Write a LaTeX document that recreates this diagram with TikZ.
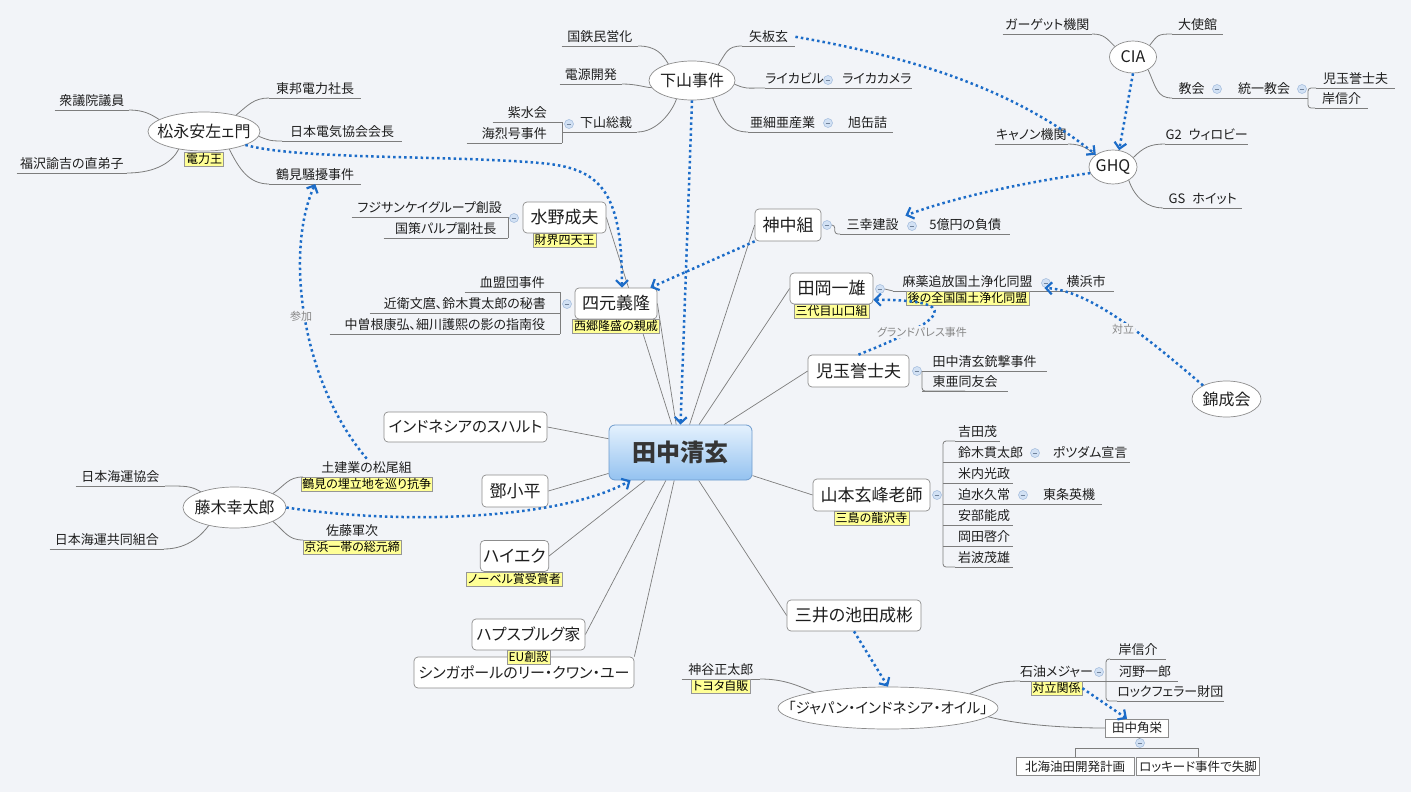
\documentclass[tikz,border=0pt]{standalone}
\usepackage{fontspec}
\setmainfont{Noto Sans CJK JP}[RawFeature=+palt]
\usetikzlibrary{positioning,shapes.geometric,arrows.meta,calc,backgrounds}

\definecolor{bgc}{RGB}{242,244,248}
\definecolor{txt}{RGB}{30,30,30}
\definecolor{linec}{RGB}{125,125,125}
\definecolor{boxc}{RGB}{140,140,140}
\definecolor{relc}{RGB}{28,108,200}
\definecolor{notey}{RGB}{255,255,150}
\definecolor{noteb}{RGB}{150,150,150}
\definecolor{minf}{RGB}{210,225,244}
\definecolor{minb}{RGB}{160,186,220}
\definecolor{coreb}{RGB}{110,155,205}
\definecolor{coretop}{RGB}{228,241,253}
\definecolor{corebot}{RGB}{148,194,240}
\definecolor{rellab}{RGB}{135,135,135}

\tikzset{
  core/.style={draw=coreb, line width=0.8pt, rounded corners=6pt, top color=coretop, bottom color=corebot,
    minimum width=143pt, minimum height=55pt, text=txt!90, font=\fontsize{24}{24}\selectfont\bfseries},
  topic/.style={draw=boxc, line width=0.7pt, fill=white, rounded corners=4pt, minimum height=31pt,
    inner xsep=3pt, text=txt, font=\fontsize{17}{17}\selectfont},
  float/.style={ellipse, draw=boxc, line width=0.7pt, fill=white, inner sep=0pt, text=txt,
    font=\fontsize{16}{16}\selectfont, execute at begin node={\hbox to 0pt\bgroup\hss},
    execute at end node={\hss\egroup}},
  leaf/.style={anchor=south west, inner xsep=0pt, inner ysep=4pt, text height=10pt, text depth=0pt,
    text=txt, font=\fontsize{13}{13}\selectfont,
    append after command={(\tikzlastnode.south west) edge[branch] (\tikzlastnode.south east)}},
  leafl/.style={leaf, anchor=south east},
  note/.style={fill=notey, draw=noteb, line width=0.5pt, inner xsep=1.5pt, inner ysep=1.2pt,
    text height=10pt, text depth=1.5pt, text=black, font=\fontsize{12}{12}\selectfont},
  plain/.style={draw=boxc, fill=white, line width=0.6pt, inner xsep=3pt, inner ysep=2pt, minimum height=18pt,
    text=txt, font=\fontsize{12.5}{12.5}\selectfont},
  minus/.style={circle, draw=minb, fill=minf, line width=0.5pt, minimum size=9pt, inner sep=0pt,
    path picture={\draw[minb!70!black, line width=0.7pt] ([xshift=-2.3pt]path picture bounding box.center)
      -- ([xshift=2.3pt]path picture bounding box.center);}},
  branch/.style={draw=linec, line width=0.8pt},
  spoke/.style={draw=linec, line width=0.7pt},
  rel/.style={draw=relc, line width=2.5pt, dash pattern=on 2.5pt off 3pt,
    -{Straight Barb[length=6pt,width=12pt,line width=2.2pt]}},
  rellabel/.style={fill=bgc, inner sep=1pt, text=rellab, font=\fontsize{11}{11}\selectfont}
}

\begin{document}
\begin{tikzpicture}[x=1pt, y=-1pt]
\useasboundingbox (0,0) rectangle (1411,792);
\begin{scope}[on background layer]
  \fill[bgc] (0,0) rectangle (1411,792);
\end{scope}

% center and main topics
\node[core] (tanaka) at (680.5,452.5) {田中清玄};
\node[topic, minimum width=83pt] (mizuno) at (564.5,217.5) {水野成夫};
\node[note, below=0pt of mizuno] (mizunonote) {財界四天王};
\node[topic, minimum width=82pt] (yotsumoto) at (616,303.5) {四元義隆};
\node[note, below=0pt of yotsumoto] (yotsumotonote) {西郷隆盛の親戚};
\node[topic, minimum width=66pt, minimum height=32pt] (jinnaka) at (788,225) {神中組};
\node[topic, minimum width=83pt] (taoka) at (831.5,288.5) {田岡一雄};
\node[note, below=0pt of taoka] (taokanote) {三代目山口組};
\node[topic, minimum width=101pt, minimum height=32pt] (kodama) at (858.5,371) {児玉誉士夫};
\node[topic, minimum width=117pt, minimum height=32pt] (yamamoto) at (871.5,495) {山本玄峰老師};
\node[note, below=0pt of yamamoto] (yamamotonote) {三島の龍沢寺};
\node[topic, minimum width=134pt] (mitsui) at (854,615.5) {三井の池田成彬};
\node[topic, minimum width=163pt, minimum height=30pt, font=\fontsize{15.5}{15.5}\selectfont] (suharto) at (465.5,427) {インドネシアのスハルト};
\node[topic, minimum width=66pt, minimum height=32pt] (deng) at (515,491) {鄧小平};
\node[topic, minimum width=65pt] (hayek) at (514.5,556) {ハイエク};
\node[note, below=0pt of hayek] (hayeknote) {ノーベル賞受賞者};
\node[topic, minimum width=220pt, font=\fontsize{15}{15}\selectfont] (lee) at (524,672.5) {シンガポールのリー・クワン・ユー};
\node[topic, minimum width=113pt, font=\fontsize{16}{16}\selectfont] (habsburg) at (528.5,634.5) {ハプスブルグ家};
\node[note, below=0pt of habsburg] (habsburgnote) {EU創設};

% floating topics
\node[float, minimum width=112pt, minimum height=39pt] (matsunaga) at (204,131.5) {松永安左ェ門};
\node[note, below=1pt of matsunaga] (matsunaganote) {電力王};
\node[float, minimum width=86pt, minimum height=39pt] (shimoyama) at (692,80.5) {下山事件};
\node[float, minimum width=47pt, minimum height=32pt] (cia) at (1133,57) {CIA};
\node[float, minimum width=48pt, minimum height=34pt] (ghq) at (1113,167) {GHQ};
\node[float, minimum width=69pt, minimum height=36pt] (kinseikai) at (1226.5,399) {錦成会};
\node[float, minimum width=103pt, minimum height=41pt] (fujiki) at (234.5,507.5) {藤木幸太郎};
\node[float, minimum width=220pt, minimum height=42pt, font=\fontsize{14.5}{14.5}\selectfont] (jio) at (888,708) {「ジャパン・インドネシア・オイル」};

\begin{scope}[on background layer]
  \draw[spoke] (mizuno.east) -- (tanaka);
  \draw[spoke] (yotsumoto.east) -- (tanaka);
  \draw[spoke] (jinnaka.west) -- (tanaka);
  \draw[spoke] (taoka.west) -- (tanaka);
  \draw[spoke] (kodama.west) -- (tanaka);
  \draw[spoke] (yamamoto.west) -- (tanaka);
  \draw[spoke] (mitsui.west) -- (tanaka);
  \draw[spoke] (suharto.east) -- (tanaka);
  \draw[spoke] (deng.east) -- (tanaka);
  \draw[spoke] (hayek.east) -- (tanaka);
  \draw[spoke] (habsburg.east) -- (tanaka);
  \draw[spoke] (lee.north east) -- (tanaka);
\end{scope}

% matsunaga
\node[leaf, minimum width=92pt] (toho) at (269,98) {東邦電力社長};
\node[leaf, minimum width=120pt] (denki) at (282,141) {日本電気協会会長};
\node[leaf, minimum width=92pt] (tsurumi) at (269,184) {鶴見騒擾事件};
\node[leafl, minimum width=74pt] (shugiin) at (129,110) {衆議院議員};
\node[leafl, minimum width=110pt] (fukuzawa) at (127,173) {福沢諭吉の直弟子};
\draw[branch] (matsunaga.27) .. controls +(12,-10) and +(-15,0) .. (toho.south west);
\draw[branch] (matsunaga.-5) .. controls +(10,4) and +(-12,0) .. (denki.south west);
\draw[branch] (matsunaga.-35) .. controls +(10,20) and +(-20,0) .. (tsurumi.south west);
\draw[branch] (shugiin.south east) .. controls +(15,0) and +(-8,-5) .. (matsunaga.165);
\draw[branch] (fukuzawa.south east) .. controls +(30,0) and +(-6,12) .. (matsunaga.-145);

% shimoyama
\node[leafl, minimum width=76pt] (kokutetsu) at (638,46) {国鉄民営化};
\node[leafl, minimum width=62pt] (dengen) at (622,84) {電源開発};
\node[leaf, minimum width=62pt] (sosai) at (575,132) {下山総裁};
\node[leafl, minimum width=69pt] (shisui) at (562,122) {紫水会};
\node[leafl, minimum width=95pt] (kairetsu) at (562,143) {海烈号事件};
\node[minus] (sosaiminus) at (569,124) {};
\node[leaf, minimum width=53pt] (yaita) at (742,46) {矢板玄};
\node[leaf, minimum width=50pt] (raikabiru) at (765,88) {ライカビル};
\node[minus] (raikaminus) at (828,80) {};
\node[leaf, minimum width=66pt] (raikacamera) at (842,88) {ライカカメラ};
\node[leaf, minimum width=69pt] (ajia) at (748,132) {亜細亜産業};
\node[minus] (ajiaminus) at (828,123) {};
\node[leaf, minimum width=51pt] (asahi) at (842,132) {旭缶詰};
\draw[branch] (kokutetsu.south east) .. controls +(18,0) and +(-6,-10) .. (shimoyama.145);
\draw[branch] (dengen.south east) .. controls +(15,0) and +(-6,0) .. (shimoyama.190);
\draw[branch] (sosai.south east) .. controls +(20,0) and +(-4,12) .. (shimoyama.-130);
\draw[branch, rounded corners=3pt] (shisui.south east) -- (kairetsu.south east);
\draw[branch] (sosai.south west) -- (sosai.south west -| shisui.south east);
\draw[branch] (shimoyama.31) .. controls +(8,-12) and +(-15,0) .. (yaita.south west);
\draw[branch] (shimoyama.-5) .. controls +(12,5) and +(-20,0) .. (raikabiru.south west);
\draw[branch] (raikabiru.south east) -- (raikacamera.south west);
\draw[branch] (shimoyama.-40) .. controls +(8,20) and +(-20,0) .. (ajia.south west);
\draw[branch] (ajia.south east) -- (asahi.south west);

% cia and ghq
\node[leafl, minimum width=89pt] (garget) at (1092,34) {ガーゲット機関};
\node[leaf, minimum width=51pt] (taishikan) at (1172,34) {大使館};
\node[leaf, minimum width=39pt] (kyokai) at (1172,98) {教会};
\node[minus] (kyokaiminus) at (1217,89) {};
\node[leaf, minimum width=62pt] (toitsu) at (1233,98) {統一教会};
\node[minus] (toitsuminus) at (1302,89) {};
\node[leaf, minimum width=79pt] (kodamacia) at (1316,88) {児玉誉士夫};
\node[leaf, minimum width=53pt] (kishicia) at (1315,108) {岸信介};
\draw[branch] (garget.south east) .. controls +(12,0) and +(-8,-8) .. (cia.150);
\draw[branch] (cia.35) .. controls +(8,-10) and +(-15,0) .. (taishikan.south west);
\draw[branch] (cia.-40) .. controls +(8,18) and +(-15,0) .. (kyokai.south west);
\draw[branch] (kyokai.south east) -- (toitsu.south west);
\draw[branch, rounded corners=3pt] (kodamacia.south west) -- ++(-8,0) -- ++(0,20) -- (kishicia.south west);
\draw[branch] (toitsu.south east) -- ++(13,0);

\node[leafl, minimum width=73pt] (kanon) at (1068,144) {キャノン機関};
\node[leaf, minimum width=83pt] (g2) at (1165,144) {G2\hspace{7pt}ウィロビー};
\node[leaf, minimum width=79pt] (gs) at (1163,208) {GS\hspace{7pt}ホイット};
\draw[branch] (kanon.south east) .. controls +(14,0) and +(-8,-6) .. (ghq.145);
\draw[branch] (ghq.25) .. controls +(10,-10) and +(-15,0) .. (g2.south west);
\draw[branch] (ghq.-40) .. controls +(6,18) and +(-15,0) .. (gs.south west);

% mizuno, yotsumoto
\node[leafl, minimum width=156pt] (fujisankei) at (508,217) {フジサンケイグループ創設};
\node[leafl, minimum width=124pt] (kokusaku) at (508,238) {国策パルプ副社長};
\node[minus] (mizunominus) at (514,218) {};
\draw[branch] (fujisankei.south east) -- (kokusaku.south east);

\node[leafl, minimum width=95pt] (ketsumei) at (560,292) {血盟団事件};
\node[leafl, minimum width=190pt] (konoe) at (560,313) {近衛文麿、鈴木貫太郎の秘書};
\node[leafl, minimum width=230pt] (nakasone) at (560,334) {中曽根康弘、細川護熙の影の指南役};
\node[minus] (yotsumotominus) at (567,304) {};
\draw[branch] (ketsumei.south east) -- (nakasone.south east);

% jinnaka, taoka, kodama
\node[minus] (jinnakaminus) at (827,225) {};
\node[leaf, minimum width=65pt] (sanko) at (840,234) {三幸建設};
\node[minus] (sankominus) at (912,226) {};
\node[leaf, minimum width=90pt] (fusai) at (920,234) {5億円の負債};
\draw[branch, rounded corners=3pt] (jinnakaminus.east) -- ++(3,0) |- (sanko.south west);
\draw[branch] (sanko.south east) -- (fusai.south west);

\node[minus] (taokaminus) at (880,289) {};
\node[leaf, minimum width=149pt] (mayaku) at (893,291) {麻薬追放国土浄化同盟};
\node[note, below=0pt of mayaku] (mayakunote) {後の全国国土浄化同盟};
\node[minus] (mayakuminus) at (1046,283) {};
\node[leaf, minimum width=56pt] (yokohama) at (1058,291) {横浜市};
\draw[branch] (taokaminus.east) -- (mayaku.south west);
\draw[branch] (mayaku.south east) -- (yokohama.south west);

\node[minus] (kodamaminus) at (917,371) {};
\node[leaf, minimum width=125pt] (juugeki) at (922,371) {田中清玄銃撃事件};
\node[leaf, minimum width=86pt] (toua) at (922,391) {東亜同友会};
\draw[branch, rounded corners=3pt] (juugeki.south west) -- (toua.south west) -- (toua.south);

% yamamoto
\node[minus] (yamamotominus) at (937,495) {};
\node[leaf, minimum width=45pt] (yoshida) at (955,441) {吉田茂};
\node[leaf, minimum width=77pt] (suzuki) at (952,462) {鈴木貫太郎};
\node[minus] (suzukiminus) at (1035,453) {};
\node[leaf, minimum width=80pt] (potsdam) at (1050,462) {ポツダム宣言};
\node[leaf, minimum width=58pt] (yonai) at (955,483) {米内光政};
\node[leaf, minimum width=58pt] (sakomizu) at (955,504) {迫水久常};
\node[minus] (sakomizuminus) at (1023,495) {};
\node[leaf, minimum width=66pt] (tojo) at (1036,504) {東条英機};
\node[leaf, minimum width=58pt] (abe) at (955,525) {安部能成};
\node[leaf, minimum width=58pt] (okada) at (955,546) {岡田啓介};
\node[leaf, minimum width=58pt] (iwanami) at (955,567) {岩波茂雄};
\draw[branch, rounded corners=3pt] (yoshida.south west) -- ++(-12,0) -- ++(0,126) -- (iwanami.south west);
\draw[branch] (suzuki.south west) -- ++(-9,0);
\draw[branch] (yonai.south west) -- ++(-12,0);
\draw[branch] (sakomizu.south west) -- ++(-12,0);
\draw[branch] (abe.south west) -- ++(-12,0);
\draw[branch] (okada.south west) -- ++(-12,0);
\draw[branch] (suzuki.south east) -- (potsdam.south west);
\draw[branch] (sakomizu.south east) -- (tojo.south west);

% fujiki
\node[leafl, minimum width=89pt] (kaiun) at (165,486) {日本海運協会};
\node[leafl, minimum width=114pt] (kyodo) at (164,549) {日本海運共同組合};
\node[leaf, minimum width=127pt] (matsuo) at (303,477) {土建業の松尾組};
\node[note, below=0pt of matsuo] (matsuonote) {鶴見の埋立地を巡り抗争};
\node[leaf, minimum width=98pt] (sato) at (303,540) {佐藤軍次};
\node[note, below=0pt of sato] (satonote) {京浜一帯の総元締};
\draw[branch] (kaiun.south east) .. controls +(20,0) and +(-10,-6) .. (fujiki.155);
\draw[branch] (kyodo.south east) .. controls +(25,0) and +(-6,8) .. (fujiki.-145);
\draw[branch] (fujiki.20) .. controls +(12,-8) and +(-15,0) .. (matsuo.south west);
\draw[branch] (fujiki.-20) .. controls +(12,10) and +(-15,0) .. (sato.south west);

% japan indonesia oil
\node[leafl, minimum width=78pt] (kamiya) at (760,679) {神谷正太郎};
\node[note, below=0pt of kamiya] (kamiyanote) {トヨタ自販};
\node[leaf, minimum width=70pt] (majors) at (1020,681) {石油メジャー};
\node[note, below=0pt of majors] (majorsnote) {対立関係};
\node[minus] (majorsminus) at (1099,672) {};
\node[leaf, minimum width=56pt] (kishijio) at (1110,659) {岸信介};
\node[leaf, minimum width=66pt] (kono) at (1112,681) {河野一郎};
\node[leaf, minimum width=94pt] (rockefeller) at (1117,701) {ロックフェラー財団};
\node[plain, minimum width=63pt] (kakuei) at (1137,728) {田中角栄};
\node[minus] (kakueiminus) at (1140,743) {};
\node[plain, minimum width=118pt] (hokkai) at (1075,766.5) {北海油田開発計画};
\node[plain, minimum width=122pt] (lockheed) at (1198,766.5) {ロッキード事件で失脚};
\draw[branch] (kamiya.south east) .. controls +(25,0) and +(-15,-6) .. (jio.168);
\draw[branch] (jio.10) .. controls +(20,-8) and +(-25,0) .. (majors.south west);
\draw[branch] (majors.south east) -- (kono.south west);
\draw[branch, rounded corners=3pt] (kishijio.south west) -- ++(-4,0) -- ++(0,42) -- (rockefeller.south west);
\draw[branch] (jio.-5) .. controls +(30,8) and +(-40,0) .. (kakuei.west);
\draw[branch] (kakuei.south) -- (kakueiminus.north);
\draw[branch] (hokkai.north) -- ++(0,-9) -| (lockheed.north);

% relations
\draw[rel] (matsunaga.-18) .. controls (300,160) and (450,155) .. (540,163)
  .. controls (600,168) and (622,190) .. ($(yotsumoto.north)+(6,0)$);
\draw[rel] (shimoyama.south) -- (tanaka.north);
\draw[rel] (yaita.east) .. controls (900,55) and (1010,85) .. (ghq.north west);
\draw[rel] (cia.south) -- (ghq.70);
\draw[rel] (ghq.195) .. controls (1040,180) and (960,195) .. (sanko.north east);
\draw[rel] (jinnaka.south west) -- ($(yotsumoto.north east)+(-7,0)$);
\draw[rel] (kinseikai.150) .. controls (1150,340) and (1090,290) .. ($(mayaku.south east)+(2,-3)$);
\draw[rel] (kodama.north) .. controls (920,330) and (985,300) .. (taoka.-15);
\draw[rel] (matsuo.north) .. controls (300,380) and (285,250) .. (tsurumi.south);
\draw[rel] (fujiki.east) .. controls (400,525) and (560,520) .. ($(tanaka.south west)+(22,0)$);
\draw[rel] (mitsui.south) -- (jio.north);
\draw[rel] (majorsnote.east) -- ($(kakuei.north)+(-10,0)$);
\node[rellabel] (sanka) at (301,316) {参加};
\node[rellabel] (tairitsu) at (1123,329) {対立};
\node[rellabel] (grandpalace) at (922,332) {グランドパレス事件};
\end{tikzpicture}
\end{document}
